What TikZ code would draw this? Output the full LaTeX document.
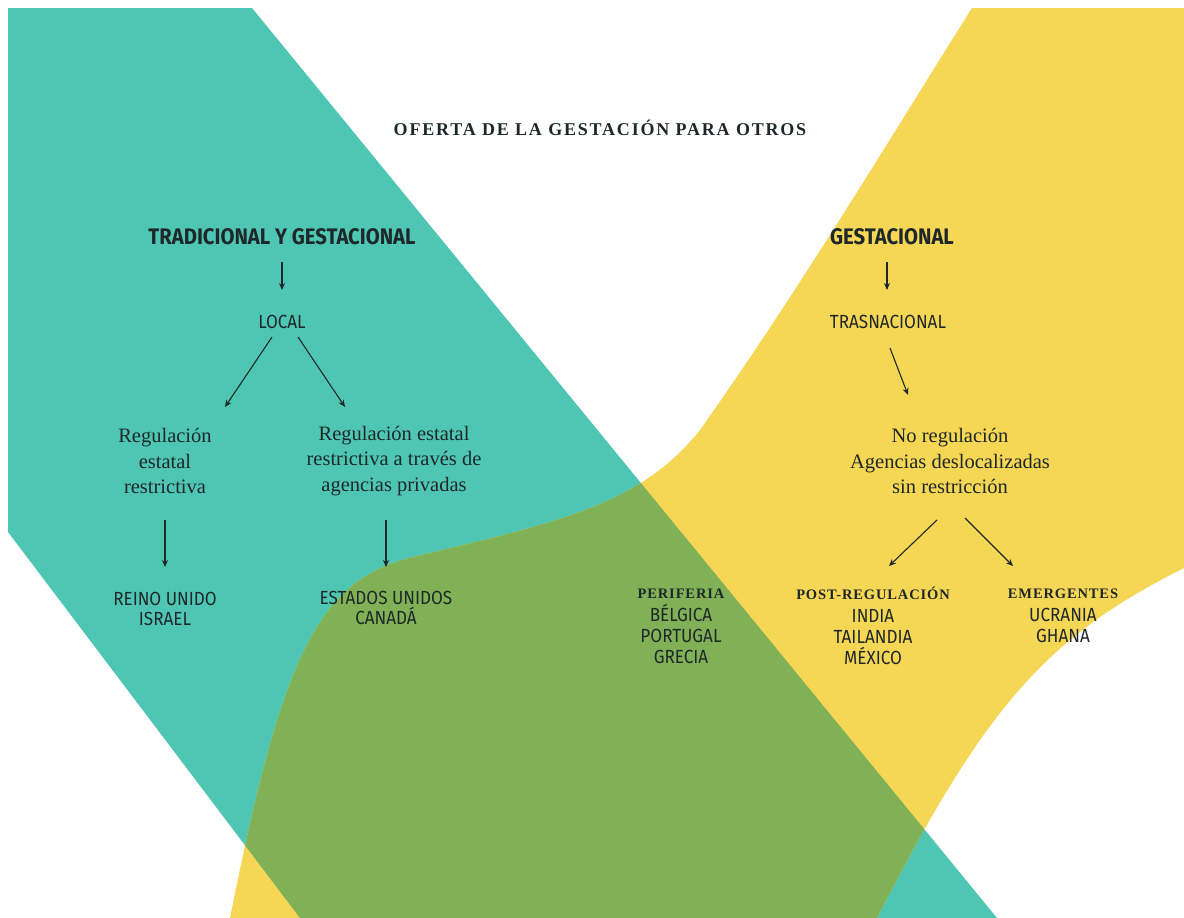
\documentclass[tikz,border=0pt]{standalone}
\usepackage{fontspec}
\usetikzlibrary{arrows.meta}
\setmainfont{Liberation Serif}
\newfontfamily\sansfam{Fira Sans}[FakeStretch=0.9]
\newfontfamily\titlefam{Liberation Serif}[LetterSpace=10]
\newfontfamily\subfam{Liberation Serif}[LetterSpace=6]
\definecolor{cTeal}{HTML}{4FC6B4}
\definecolor{cYel}{HTML}{F5D655}
\definecolor{cGreen}{HTML}{80B157}
\definecolor{cTxt}{HTML}{1E2828}
\tikzset{
  arr/.style={-{Stealth[length=7pt,width=6pt]}, line width=1.1pt, draw=cTxt},
  ttl/.style={font=\titlefam\bfseries\fontsize{18}{21}\selectfont, text=cTxt},
  hd/.style={font=\sansfam\bfseries\fontsize{22.5}{26}\selectfont, text=cTxt},
  lvl/.style={font=\sansfam\fontsize{19}{21}\selectfont, text=cTxt},
  body/.style={font=\rmfamily\fontsize{20.5}{25.5}\selectfont, text=cTxt, align=center},
  ctry/.style={font=\sansfam\fontsize{19}{20}\selectfont, text=cTxt, align=center},
  ctryr/.style={font=\sansfam\fontsize{19}{21}\selectfont, text=cTxt, align=center},
}
\newcommand{\subhd}[1]{{\subfam\bfseries\fontsize{14.5}{16}\selectfont #1}}
\begin{document}
\begin{tikzpicture}[x=1pt,y=-1pt]
\useasboundingbox (0,0) rectangle (1184,918);
\fill[white] (0,0) rectangle (1184,918);
% teal band
\fill[cTeal] (8,8) -- (252,8) -- (997,918) -- (300,918) -- (8,532) -- cycle;
% yellow band
\fill[cYel] (972,8) -- (1184,8) -- (1184,568) .. controls (1046,637) and (985,707) .. (877,918)
  -- (230,918) .. controls (283,652) and (319,580) .. (413,557)
  .. controls (560,522) and (640,505) .. (700,430)
  .. controls (799,290) and (884,148) .. (972,8) -- cycle;
% overlap
\begin{scope}
\clip (8,8) -- (252,8) -- (997,918) -- (300,918) -- (8,532) -- cycle;
\fill[cGreen] (972,8) -- (1184,8) -- (1184,568) .. controls (1046,637) and (985,707) .. (877,918)
  -- (230,918) .. controls (283,652) and (319,580) .. (413,557)
  .. controls (560,522) and (640,505) .. (700,430)
  .. controls (799,290) and (884,148) .. (972,8) -- cycle;
\end{scope}

% texts
\node[ttl] (title) at (600,128) {OFERTA DE LA GESTACIÓN PARA OTROS};
\node[hd] (trad) at (282,237) {TRADICIONAL Y GESTACIONAL};
\node[hd] (gest) at (892,237) {GESTACIONAL};
\node[lvl] (local) at (282,322) {LOCAL};
\node[lvl] (trasn) at (888,322) {TRASNACIONAL};
\node[body] (reg1) at (165,461) {Regulación\\estatal\\restrictiva};
\node[body] (reg2) at (394,461) {Regulación estatal\\restrictiva a través de\\agencias privadas};
\node[body] (noreg) at (950,461) {No regulación\\Agencias deslocalizadas\\sin restricción};
\node[ctry] (reino) at (165,609) {REINO UNIDO\\ISRAEL};
\node[ctry] (eeuu) at (386,608) {ESTADOS UNIDOS\\CANADÁ};
\node[ctryr] (perif) at (681,626) {\subhd{PERIFERIA}\\[2pt]BÉLGICA\\PORTUGAL\\GRECIA};
\node[ctryr] (post) at (873,626) {\subhd{POST-REGULACIÓN}\\[2pt]INDIA\\TAILANDIA\\MÉXICO};
\node[ctryr] (emerg) at (1063,616) {\subhd{EMERGENTES}\\[2pt]UCRANIA\\GHANA};

% arrows
\draw[arr] ([shift={(0,25)}]trad.center) -- ([shift={(0,-32)}]local.center);
\draw[arr] ([shift={(-10,15)}]local.center) -- ([shift={(60,-54)}]reg1.center);
\draw[arr] ([shift={(16,15)}]local.center) -- ([shift={(-49,-54)}]reg2.center);
\draw[arr] ([shift={(0,59)}]reg1.center) -- ([shift={(0,-42)}]reino.center);
\draw[arr] ([shift={(-8,59)}]reg2.center) -- ([shift={(0,-41)}]eeuu.center);
\draw[arr] ([shift={(-5,25)}]gest.center) -- ([shift={(-1,-32)}]trasn.center);
\draw[arr] ([shift={(2,26)}]trasn.center) -- ([shift={(-42,-66)}]noreg.center);
\draw[arr] ([shift={(-13,59)}]noreg.center) -- ([shift={(16,-60)}]post.center);
\draw[arr] ([shift={(15,57)}]noreg.center) -- ([shift={(-50,-50)}]emerg.center);
\end{tikzpicture}
\end{document}
